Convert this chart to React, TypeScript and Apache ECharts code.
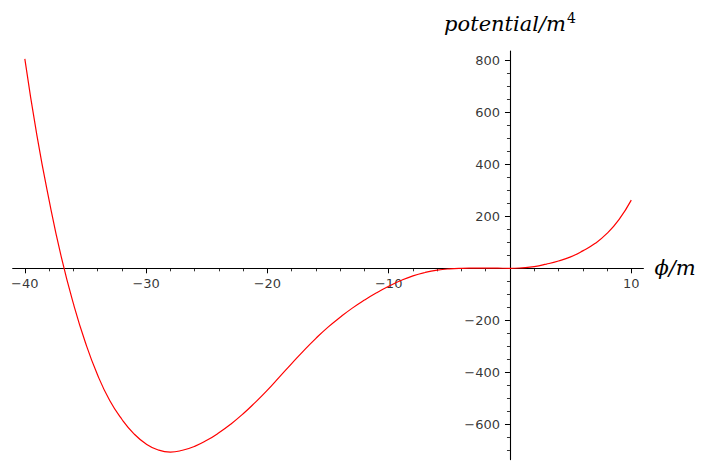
import React, { useEffect, useRef } from "react";
import * as echarts from "echarts";

const phiValues = [
  -40, -39, -38, -37, -36, -35, -34, -33, -32, -31, -30, -29, -28, -27, -26, -25, -24, -23, -22, -21,
  -20, -19, -18, -17, -16, -15, -14, -13, -12, -11, -10, -9, -8, -7, -6, -5, -4, -3, -2, -1,
  0, 1, 2, 3, 4, 5, 6, 7, 8, 9, 10,
];
const potentialValues = [
  805, 510, 262, 45, -135, -286, -410, -508, -580, -636, -675, -698, -706, -699, -684, -661, -632, -598, -559, -515,
  -468, -417, -366, -316, -269, -226, -188, -153, -122, -94, -69, -47, -29, -16, -7, -2, 0, 0.5, 0.8, 0.4,
  0, 2, 6.5, 16, 28, 44, 67, 95, 134, 188, 262,
];

const xMajorTicks = [-40, -30, -20, -10, 10];
const xMinorTicks = [-38, -36, -34, -32, -28, -26, -24, -22, -18, -16, -14, -12, -8, -6, -4, -2, 2, 4, 6, 8];
const yMajorTicks = [-600, -400, -200, 200, 400, 600, 800];
const yMinorTicks = [-700, -650, -550, -500, -450, -350, -300, -250, -150, -100, -50, 50, 100, 150, 250, 300, 350, 450, 500, 550, 650, 700, 750];

const xRange = { min: -41, max: 11 };
const yRange = { min: -735, max: 835 };

const minusFmt = (v: number) => String(v).replace("-", "\u2212");

export default function App() {
  const ref = useRef<HTMLDivElement>(null);
  useEffect(() => {
    if (!ref.current) return;
    const chart = echarts.init(ref.current, null, { renderer: "svg" });
    const black = "#000000";
    const tickFont = { color: black, fontFamily: "DejaVu Sans", fontSize: 13 };
    chart.setOption({
      animation: false,
      backgroundColor: "#ffffff",
      grid: { left: 12.7, right: 65.6, top: 51, bottom: 10.4, containLabel: false, outerBoundsMode: "none" },
      xAxis: [
        {
          type: "value",
          position: "bottom",
          min: xRange.min,
          max: xRange.max,
          axisLine: { show: true, onZero: true, lineStyle: { color: black, width: 1.1 } },
          axisTick: { show: true, customValues: xMajorTicks, length: 5, lineStyle: { color: black, width: 1 } },
          axisLabel: { show: false },
          splitLine: { show: false },
          name: "ϕ/m",
          nameLocation: "end",
          nameGap: 11,
          nameTextStyle: {
            fontFamily: "DejaVu Serif",
            fontStyle: "italic",
            fontSize: 21,
            color: black,
            align: "left",
            verticalAlign: "middle",
            padding: [0, 0, 12, 0],
          },
        },
        {
          type: "value",
          position: "bottom",
          min: xRange.min,
          max: xRange.max,
          axisLine: { show: false, onZero: true, onZeroAxisIndex: 0 },
          axisTick: { show: true, customValues: xMinorTicks, length: 3, lineStyle: { color: black, width: 0.8 } },
          axisLabel: { show: false },
          splitLine: { show: false },
        },
      ],
      yAxis: [
        {
          type: "value",
          position: "left",
          min: yRange.min,
          max: yRange.max,
          axisLine: { show: true, onZero: true, lineStyle: { color: black, width: 1.1 } },
          axisTick: { show: true, customValues: yMajorTicks, length: 5, lineStyle: { color: black, width: 1 } },
          axisLabel: { show: false },
          splitLine: { show: false },
          name: "{a|potential/m}{b|4}",
          nameLocation: "end",
          nameGap: 14,
          nameTextStyle: {
            align: "center",
            rich: {
              a: { fontFamily: "DejaVu Serif", fontStyle: "italic", fontSize: 21, color: black, lineHeight: 26 },
              b: { fontFamily: "DejaVu Serif", fontSize: 14, color: black, verticalAlign: "top", lineHeight: 26, padding: [0, 0, 10, 1] },
            },
          },
        },
        {
          type: "value",
          position: "left",
          min: yRange.min,
          max: yRange.max,
          axisLine: { show: false, onZero: true, onZeroAxisIndex: 0 },
          axisTick: { show: true, customValues: yMinorTicks, length: 3, lineStyle: { color: black, width: 0.8 } },
          axisLabel: { show: false },
          splitLine: { show: false },
        },
      ],
      series: [
        {
          type: "line",
          xAxisIndex: 0,
          yAxisIndex: 0,
          data: phiValues.map((p, i) => [p, potentialValues[i]]),
          smooth: 0.5,
          showSymbol: false,
          lineStyle: { color: "#ff0000", width: 1.2 },
          itemStyle: { color: "#ff0000" },
          z: 3,
        },
        {
          type: "scatter",
          xAxisIndex: 0,
          yAxisIndex: 0,
          silent: true,
          symbolSize: 0,
          data: xMajorTicks.map((v) => [v, 0]),
          label: {
            show: true,
            position: "bottom",
            distance: 9,
            ...tickFont,
            formatter: (p: any) => minusFmt(p.value[0]),
          },
          z: 2,
        },
        {
          type: "scatter",
          xAxisIndex: 0,
          yAxisIndex: 0,
          silent: true,
          symbolSize: 0,
          data: yMajorTicks.map((v) => [0, v]),
          label: {
            show: true,
            position: "left",
            distance: 10,
            ...tickFont,
            formatter: (p: any) => minusFmt(p.value[1]),
          },
          z: 2,
        },
      ],
    });
    return () => chart.dispose();
  }, []);
  return <div ref={ref} style={{ position: "fixed", left: 0, top: 0, width: 709, height: 470 }} />;
}
